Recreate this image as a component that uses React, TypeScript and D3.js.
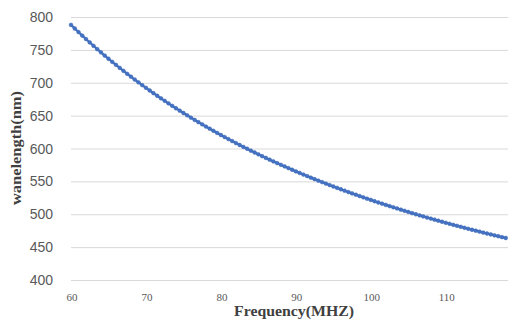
import { useEffect, useRef } from "react";
import * as d3 from "d3";

// frequency (MHz), 0.5 MHz step
const frequency: number[] = [
  60, 60.5, 61, 61.5, 62, 62.5, 63, 63.5, 64, 64.5, 65, 65.5, 66, 66.5, 67, 67.5,
  68, 68.5, 69, 69.5, 70, 70.5, 71, 71.5, 72, 72.5, 73, 73.5, 74, 74.5, 75, 75.5,
  76, 76.5, 77, 77.5, 78, 78.5, 79, 79.5, 80, 80.5, 81, 81.5, 82, 82.5, 83, 83.5,
  84, 84.5, 85, 85.5, 86, 86.5, 87, 87.5, 88, 88.5, 89, 89.5, 90, 90.5, 91, 91.5,
  92, 92.5, 93, 93.5, 94, 94.5, 95, 95.5, 96, 96.5, 97, 97.5, 98, 98.5, 99, 99.5,
  100, 100.5, 101, 101.5, 102, 102.5, 103, 103.5, 104, 104.5, 105, 105.5, 106, 106.5,
  107, 107.5, 108, 108.5, 109, 109.5, 110, 110.5, 111, 111.5, 112, 112.5, 113, 113.5,
  114, 114.5, 115, 115.5, 116, 116.5, 117, 117.5, 118,
];

// wavelength (nm)
const wavelength: number[] = [
  788.0, 782.5, 777.1, 771.7, 766.5, 761.3, 756.2, 751.1, 746.2, 741.3, 736.5, 731.8,
  727.2, 722.6, 718.1, 713.6, 709.2, 704.9, 700.6, 696.4, 692.3, 688.2, 684.2, 680.2,
  676.3, 672.5, 668.7, 664.9, 661.2, 657.6, 654.0, 650.5, 646.9, 643.5, 640.1, 636.7,
  633.4, 630.1, 626.9, 623.7, 620.5, 617.4, 614.3, 611.3, 608.3, 605.3, 602.4, 599.6,
  596.7, 593.9, 591.1, 588.4, 585.7, 583.0, 580.4, 577.8, 575.2, 572.7, 570.2, 567.7,
  565.2, 562.8, 560.4, 558.1, 555.7, 553.4, 551.1, 548.9, 546.6, 544.4, 542.2, 540.1,
  538.0, 535.8, 533.8, 531.7, 529.7, 527.7, 525.7, 523.7, 521.8, 519.8, 517.9, 516.1,
  514.2, 512.4, 510.6, 508.8, 507.0, 505.2, 503.5, 501.7, 500.0, 498.3, 496.7, 495.0,
  493.4, 491.8, 490.2, 488.6, 487.0, 485.5, 483.9, 482.4, 480.9, 479.4, 477.9, 476.4,
  475.0, 473.6, 472.1, 470.7, 469.3, 467.9, 466.6, 465.2, 463.9,
];

const xTicks = [60, 70, 80, 90, 100, 110];
const yTicks = [400, 450, 500, 550, 600, 650, 700, 750, 800];

const W = 508;
const H = 320;

export default function App() {
  const svgRef = useRef<SVGSVGElement>(null);

  useEffect(() => {
    if (!svgRef.current) return;
    const svg = d3.select(svgRef.current);
    svg.selectAll("*").remove();

    const x = d3.scaleLinear().domain([60, 118.3]).range([71, 508]);
    const y = d3.scaleLinear().domain([400, 800]).range([280, 17]);

    svg.append("rect").attr("width", W).attr("height", H).attr("fill", "#fff");

    // gridlines
    const grid = svg
      .append("g")
      .attr("transform", "translate(71,0)")
      .call(
        d3.axisLeft(y)
          .tickValues(yTicks)
          .tickSize(-(W - 71))
          .tickFormat(() => "")
      );
    grid.select(".domain").remove();
    grid.selectAll("line").attr("stroke", "#d9d9d9").attr("stroke-width", 1);

    // y tick labels
    svg
      .append("g")
      .selectAll("text")
      .data(yTicks)
      .enter()
      .append("text")
      .attr("x", 53)
      .attr("y", d => y(d) + 5)
      .attr("text-anchor", "end")
      .attr("font-family", "'Liberation Sans', Arial, sans-serif")
      .attr("font-size", 14)
      .attr("fill", "#595959")
      .text(d => d);

    // x tick labels
    svg
      .append("g")
      .selectAll("text")
      .data(xTicks)
      .enter()
      .append("text")
      .attr("x", d => x(d) + 1)
      .attr("y", 301)
      .attr("text-anchor", "middle")
      .attr("font-family", "'Liberation Serif', 'Times New Roman', serif")
      .attr("font-size", 11)
      .attr("fill", "#595959")
      .text(d => d);

    const pts = frequency.map((f, i) => [f, wavelength[i]] as [number, number]);

    const line = d3
      .line<[number, number]>()
      .x(d => x(d[0]))
      .y(d => y(d[1]));

    svg
      .append("path")
      .datum(pts)
      .attr("d", line)
      .attr("fill", "none")
      .attr("stroke", "#4472c4")
      .attr("stroke-width", 2.2);

    svg
      .append("g")
      .selectAll("circle")
      .data(pts)
      .enter()
      .append("circle")
      .attr("cx", d => x(d[0]))
      .attr("cy", d => y(d[1]))
      .attr("r", 1.9)
      .attr("fill", "#4472c4")
      .attr("stroke", "#3f69b3")
      .attr("stroke-width", 0.5);

    // axis titles
    svg
      .append("text")
      .attr("x", 294)
      .attr("y", 316)
      .attr("text-anchor", "middle")
      .attr("font-family", "'Liberation Serif', 'Times New Roman', serif")
      .attr("font-weight", "bold")
      .attr("font-size", 14)
      .attr("textLength", 120)
      .attr("lengthAdjust", "spacingAndGlyphs")
      .attr("fill", "#404040")
      .text("Frequency(MHZ)");

    svg
      .append("text")
      .attr("transform", "translate(21,148) rotate(-90)")
      .attr("text-anchor", "middle")
      .attr("font-family", "'Liberation Serif', 'Times New Roman', serif")
      .attr("font-weight", "bold")
      .attr("font-size", 14)
      .attr("textLength", 114)
      .attr("lengthAdjust", "spacingAndGlyphs")
      .attr("fill", "#404040")
      .text("wanelength(nm)");
  }, []);

  return (
    <svg
      ref={svgRef}
      width={W}
      height={H}
      style={{ position: "absolute", left: 0, top: 0, display: "block" }}
    />
  );
}
